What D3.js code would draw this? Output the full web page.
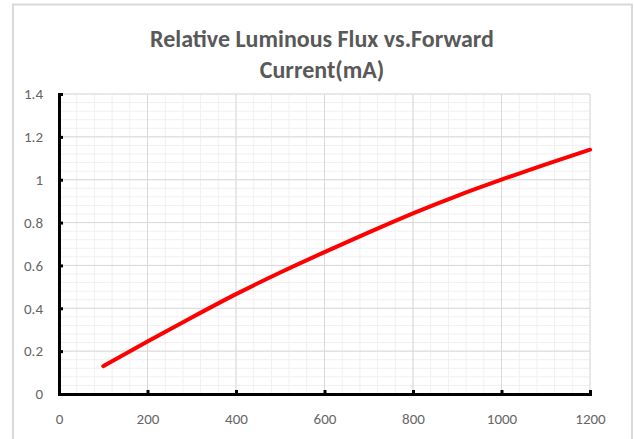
<!DOCTYPE html>
<html>
<head>
<meta charset="utf-8">
<script src="https://cdn.jsdelivr.net/npm/d3@7"></script>
<style>
  body { margin: 0; background: #fff; }
  svg { display: block; }
</style>
</head>
<body>
<svg id="chart" width="634" height="439"></svg>
<script>
var currentMA = [100, 200, 300, 400, 500, 600, 700, 800, 900, 1000, 1100, 1200];
var relFlux = [0.13, 0.245, 0.357, 0.466, 0.567, 0.662, 0.754, 0.843, 0.925, 1.0, 1.072, 1.14];
var xTicks = [0, 200, 400, 600, 800, 1000, 1200];
var yTicks = [0, 0.2, 0.4, 0.6, 0.8, 1, 1.2, 1.4];
var titleLines = ["Relative Luminous Flux vs.Forward", "Current(mA)"];

var svg = d3.select("#chart");
var margin = { left: 59, right: 44, top: 94, bottom: 45 };
var W = 634, H = 439;
var x = d3.scaleLinear().domain([0, 1200]).range([margin.left, W - margin.right]);
var y = d3.scaleLinear().domain([0, 1.4]).range([H - margin.bottom, margin.top]);
var font = "Carlito, Calibri, Lato, sans-serif";

// outer frame
svg.append("rect").attr("x", 13).attr("y", 4.5).attr("width", 619).attr("height", 440)
    .attr("fill", "none").attr("stroke", "#d9d9d9").attr("stroke-width", 2);

// minor grid
var grid = svg.append("g");
grid.selectAll(".minorY").data(d3.range(0, 1.4001, 0.04)).enter().append("line")
    .attr("x1", x(0)).attr("x2", x(1200))
    .attr("y1", function (d) { return y(d); }).attr("y2", function (d) { return y(d); })
    .attr("stroke", "#f0f0f0").attr("stroke-width", 1);
grid.selectAll(".minorX").data(d3.range(0, 1200.1, 40)).enter().append("line")
    .attr("y1", y(0)).attr("y2", y(1.4))
    .attr("x1", function (d) { return x(d); }).attr("x2", function (d) { return x(d); })
    .attr("stroke", "#f0f0f0").attr("stroke-width", 1);
// major grid
grid.selectAll(".majorY").data(yTicks).enter().append("line")
    .attr("x1", x(0)).attr("x2", x(1200))
    .attr("y1", function (d) { return y(d); }).attr("y2", function (d) { return y(d); })
    .attr("stroke", "#d9d9d9").attr("stroke-width", 1);
grid.selectAll(".majorX").data(xTicks).enter().append("line")
    .attr("y1", y(0)).attr("y2", y(1.4))
    .attr("x1", function (d) { return x(d); }).attr("x2", function (d) { return x(d); })
    .attr("stroke", "#d9d9d9").attr("stroke-width", 1);

// axes
var xAxis = svg.append("g").attr("transform", "translate(0," + y(0) + ")")
    .call(d3.axisBottom(x).tickValues(xTicks).tickSize(-4).tickPadding(19).tickFormat(d3.format("d")));
var yAxis = svg.append("g").attr("transform", "translate(" + x(0) + ",0)")
    .call(d3.axisLeft(y).tickValues(yTicks).tickSize(-4).tickPadding(16).tickFormat(function (d) { return String(+d.toFixed(1)); }));
[xAxis, yAxis].forEach(function (a) {
    a.select(".domain").attr("stroke", "#000").attr("stroke-width", 3);
    a.selectAll(".tick line").attr("stroke", "#000").attr("stroke-width", 3);
    a.selectAll(".tick text").attr("fill", "#666").style("font-family", font).style("font-size", "15px");
});

// data line
var line = d3.line()
    .x(function (d, i) { return x(currentMA[i]); })
    .y(function (d) { return y(d); })
    .curve(d3.curveNatural);
svg.append("path").datum(relFlux).attr("d", line)
    .attr("fill", "none").attr("stroke", "#ff0000").attr("stroke-width", 4).attr("stroke-linecap", "round");

// title
svg.append("text").attr("x", 322).attr("y", 47).attr("text-anchor", "middle")
    .attr("fill", "#595959").style("font-family", font).style("font-size", "24px").style("font-weight", "bold")
    .selectAll("tspan").data(titleLines).enter().append("tspan")
    .attr("x", 322).attr("dy", function (d, i) { return i === 0 ? 0 : 31; })
    .text(function (d) { return d; });
</script>
</body>
</html>
